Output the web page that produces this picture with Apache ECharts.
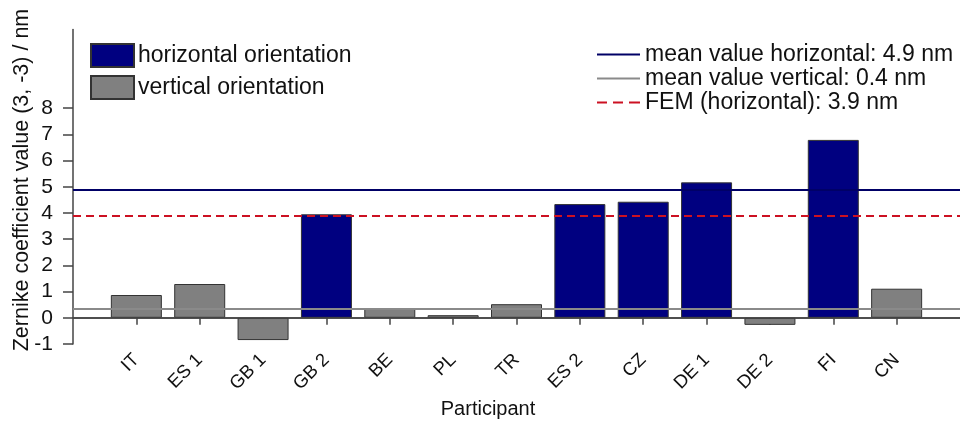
<!DOCTYPE html>
<html>
<head>
<meta charset="utf-8">
<script src="https://cdn.jsdelivr.net/npm/echarts@6/dist/echarts.min.js"></script>
<style>html,body{margin:0;padding:0;background:#fff;}#chart{width:960px;height:421px;}</style>
</head>
<body>
<div id="chart"></div>
<script>
const participants = ['IT','ES 1','GB 1','GB 2','BE','PL','TR','ES 2','CZ','DE 1','DE 2','FI','CN'];
const values = [0.87, 1.29, -0.85, 3.95, 0.37, 0.10, 0.52, 4.34, 4.43, 5.17, -0.27, 6.79, 1.11];
const orientation = ['v','v','v','h','v','v','v','h','h','h','v','h','v'];
const meanHorizontal = 4.9;
const meanVertical = 0.35;
const femHorizontal = 3.9;
const yTickLabels = [-1,0,1,2,3,4,5,6,7,8];

const FONT = "'Liberation Sans', Arial, sans-serif";
const NAVY = '#000080';
const GRAY = '#808080';
const SOLID_ICON = 'path://M0,0h43v2h-43z';
const DASH_ICON = 'path://M0,0h10v2h-10z M16,0h10v2h-10z M32,0h11v2h-11z';

function seriesData(kind) {
  const out = [];
  participants.forEach((p, i) => { if (orientation[i] === kind) out.push([i + 1, values[i]]); });
  return out;
}
const xPositions = participants.map((p, i) => i + 1);

const chart = echarts.init(document.getElementById('chart'), null, {renderer: 'canvas'});
const option = {
  animation: false,
  backgroundColor: '#fff',
  textStyle: {fontFamily: FONT},
  grid: {left: 73, top: 29.6, height: 314.4, width: 893, containLabel: false},
  xAxis: {
    type: 'value', min: 0, max: 14, interval: 1,
    axisLine: {show: true, lineStyle: {color: '#444', width: 1.5}},
    axisTick: {show: true, length: 7, lineStyle: {color: '#444', width: 1.5}, customValues: xPositions},
    axisLabel: {rotate: 45, fontSize: 18.5, color: '#111', margin: 13, fontFamily: FONT,
      customValues: xPositions, formatter: v => participants[v - 1] || ''},
    splitLine: {show: false}
  },
  yAxis: {
    type: 'value', min: -1, max: 11, interval: 1,
    axisLine: {show: true, onZero: false, lineStyle: {color: '#444', width: 1.5}},
    axisTick: {show: true, length: 10, lineStyle: {color: '#444', width: 1.5}, customValues: yTickLabels},
    axisLabel: {fontSize: 21, color: '#111', margin: 20, fontFamily: FONT, customValues: yTickLabels},
    splitLine: {show: false}
  },
  legend: [
    {
      data: ['horizontal orientation', 'vertical orientation'],
      orient: 'vertical', left: 90, top: 43, icon: 'rect', padding: 0,
      itemWidth: 43, itemHeight: 23, itemGap: 7,
      textStyle: {fontSize: 23, color: '#111', fontFamily: FONT, padding: [0, 0, 0, -1]},
      selectedMode: false
    },
    {
      data: [
        {name: 'mean value horizontal: 4.9 nm', icon: SOLID_ICON},
        {name: 'mean value vertical: 0.4 nm', icon: SOLID_ICON},
        {name: 'FEM (horizontal): 3.9 nm', icon: DASH_ICON}
      ],
      orient: 'vertical', left: 597, top: 43, padding: 0,
      itemWidth: 43, itemHeight: 2, itemGap: 1,
      textStyle: {fontSize: 23, lineHeight: 23, color: '#111', fontFamily: FONT},
      selectedMode: false
    }
  ],
  series: [
    {
      name: 'horizontal orientation', type: 'bar', barWidth: 51, barGap: '-100%',
      itemStyle: {color: NAVY, borderColor: '#333', borderWidth: 1},
      data: seriesData('h')
    },
    {
      name: 'vertical orientation', type: 'bar', barWidth: 51, barGap: '-100%',
      itemStyle: {color: GRAY, borderColor: '#333', borderWidth: 1},
      data: seriesData('v'),
      markLine: {silent: true, symbol: 'none', label: {show: false},
        lineStyle: {color: '#444', width: 1.5, type: 'solid'}, data: [{yAxis: 0}]}
    },
    {
      name: 'mean value horizontal: 4.9 nm', type: 'line', symbol: 'none', data: [],
      itemStyle: {color: '#000066'}, lineStyle: {color: '#000066', width: 2},
      markLine: {silent: true, symbol: 'none', label: {show: false},
        lineStyle: {color: '#000066', width: 2, type: 'solid'}, data: [{yAxis: meanHorizontal}]}
    },
    {
      name: 'mean value vertical: 0.4 nm', type: 'line', symbol: 'none', data: [],
      itemStyle: {color: '#8a8a8a'}, lineStyle: {color: '#8a8a8a', width: 2},
      markLine: {silent: true, symbol: 'none', label: {show: false},
        lineStyle: {color: '#8a8a8a', width: 2, type: 'solid'}, data: [{yAxis: meanVertical}]}
    },
    {
      name: 'FEM (horizontal): 3.9 nm', type: 'line', symbol: 'none', data: [],
      itemStyle: {color: '#cc1122'}, lineStyle: {color: '#cc1122', width: 2, type: [8, 5]},
      markLine: {silent: true, symbol: 'none', label: {show: false},
        lineStyle: {color: '#cc1122', width: 2, type: [8, 5]}, data: [{yAxis: femHorizontal}]}
    }
  ],
  graphic: [
    {type: 'text', x: 22, y: 180, rotation: Math.PI / 2,
      style: {text: 'Zernike coefficient value (3, -3) / nm', fontSize: 21.5, fontFamily: FONT, fill: '#111',
        textAlign: 'center', textVerticalAlign: 'middle'}},
    {type: 'text', x: 488, y: 409,
      style: {text: 'Participant', fontSize: 20, fontFamily: FONT, fill: '#111',
        textAlign: 'center', textVerticalAlign: 'middle'}}
  ]
};
chart.setOption(option);
</script>
</body>
</html>
